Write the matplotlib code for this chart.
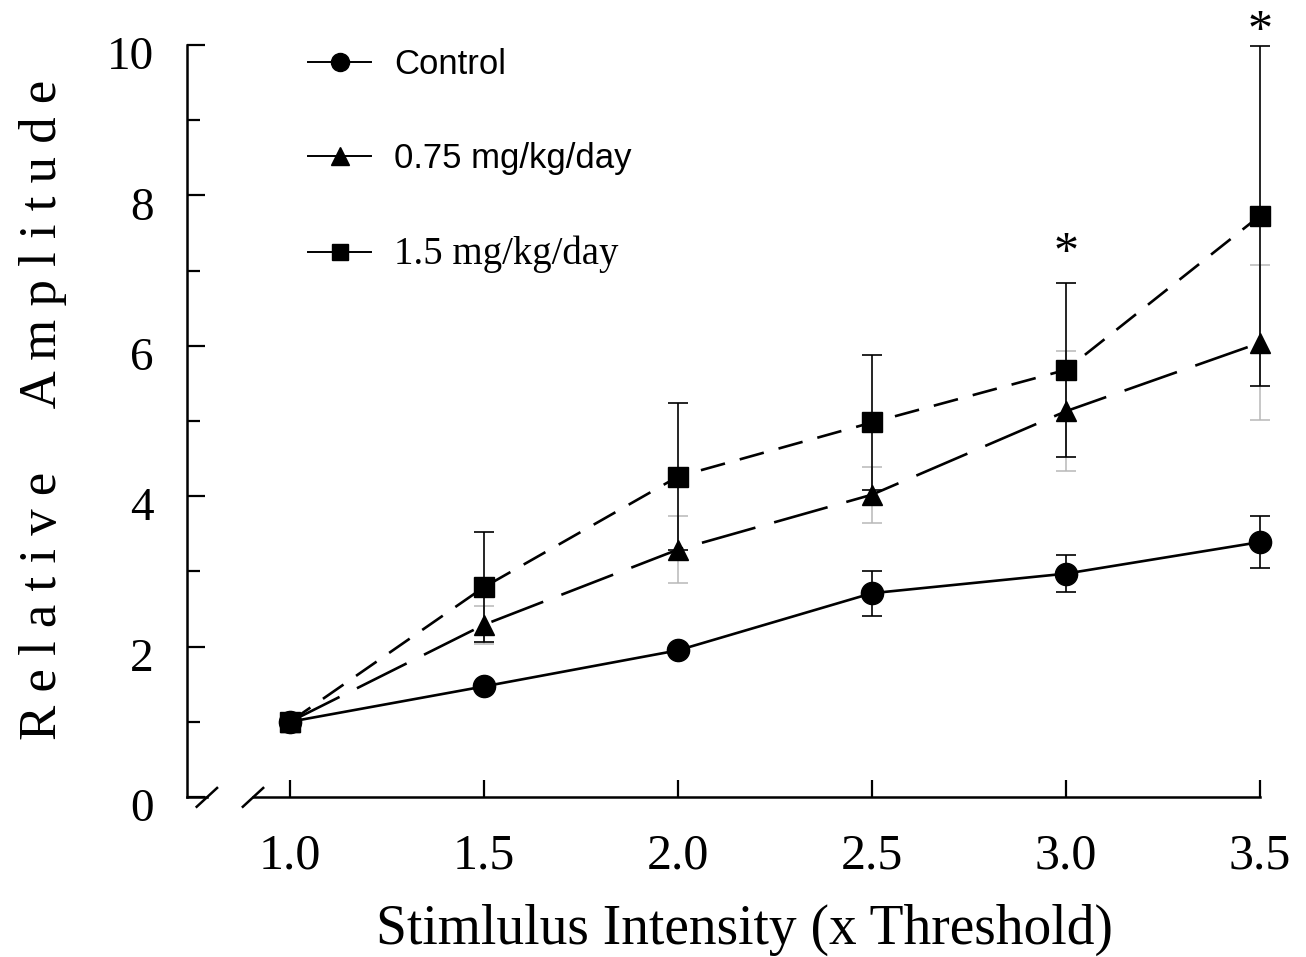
import numpy as np
import matplotlib
matplotlib.use("Agg")
import matplotlib.pyplot as plt
import matplotlib.transforms as mtransforms
from matplotlib.lines import Line2D

plt.rcParams['lines.scale_dashes'] = False

# data
intensity = [1.0, 1.5, 2.0, 2.5, 3.0, 3.5]

control = [1.0, 1.47, 1.95, 2.71, 2.97, 3.39]
control_err = [0.0, 0.0, 0.0, 0.30, 0.25, 0.35]

low_dose = [1.0, 2.29, 3.29, 4.02, 5.13, 6.04]
low_dose_err = [0.0, 0.25, 0.45, 0.37, 0.80, 1.03]

high_dose = [1.0, 2.79, 4.26, 4.98, 5.68, 7.73]
high_dose_err = [0.0, 0.73, 0.98, 0.90, 1.16, 2.26]

star_x = [3.0, 3.5]
star_y = [7.22, 10.17]

labels = ['Control', '0.75 mg/kg/day', '1.5 mg/kg/day']

serif = 'Liberation Serif'
sans = 'Liberation Sans'

fig = plt.figure(figsize=(13.06, 9.57), dpi=100)
ax = fig.add_axes([0.1432, 0.1672, 0.8216, 0.7858])

# error bars first (grey for 0.75, black for the others)
ax.errorbar(intensity, low_dose, yerr=low_dose_err, fmt='none', ecolor='#b8b8b8',
            elinewidth=1.1, capsize=7, capthick=1.1, zorder=2, clip_on=False)
ax.errorbar(intensity, high_dose, yerr=high_dose_err, fmt='none', ecolor='black',
            elinewidth=1.2, capsize=7, capthick=1.2, zorder=2, clip_on=False)
ax.errorbar(intensity, control, yerr=control_err, fmt='none', ecolor='black',
            elinewidth=1.2, capsize=7, capthick=1.2, zorder=2, clip_on=False)

lw = 1.9
ax.plot(intensity, control, color='black', lw=lw, marker='o', ms=16, zorder=3, clip_on=False)
ax.plot(intensity, low_dose, color='black', lw=lw, marker='^', ms=15,
        dashes=[40, 14], zorder=4, clip_on=False)
ax.plot(intensity, high_dose, color='black', lw=lw, marker='s', ms=15,
        dashes=[18, 11], zorder=5, clip_on=False)

for sx, sy in zip(star_x, star_y):
    ax.text(sx, sy, '*', fontsize=36, family=serif, ha='center', va='center')

ax.set_xlim(0.735, 3.5)
ax.set_ylim(0, 10)
ax.set_xticks(intensity)
ax.set_xticklabels(['%.1f' % v for v in intensity])
ax.set_yticks(np.arange(0, 11, 2))
ax.set_yticks(np.arange(1, 10, 2), minor=True)

ax.tick_params(axis='y', which='major', direction='in', length=13, width=1.6, pad=24)
ax.tick_params(axis='y', which='minor', direction='in', length=9, width=1.6)
ax.tick_params(axis='x', which='major', direction='in', length=12, width=1.6, pad=26)

for lab in ax.get_xticklabels():
    lab.set_family(serif)
    lab.set_fontsize(36)
# y tick numbers sit a little below their ticks in the original
shift = mtransforms.ScaledTranslation(0, -0.08, fig.dpi_scale_trans)
for lab in ax.get_yticklabels():
    lab.set_family(serif)
    lab.set_fontsize(34)
    lab.set_transform(lab.get_transform() + shift)

for s in ['top', 'right']:
    ax.spines[s].set_visible(False)
for s in ['left', 'bottom']:
    ax.spines[s].set_linewidth(1.8)

# broken x axis
ax.spines['bottom'].set_bounds(0.905, 3.5)
kw = dict(transform=ax.transAxes, color='black', lw=1.8, clip_on=False)
ax.plot([0.0, 0.019], [0.0, 0.0], **kw)
ax.plot([0.009, 0.028], [-0.013, 0.012], **kw)
ax.plot([0.052, 0.071], [-0.013, 0.012], **kw)

ax.set_xlabel('Stimlulus Intensity (x Threshold)', fontsize=40, family=serif)
ax.xaxis.label.set_va('center')
ax.xaxis.set_label_coords(0.52, -0.177)
ax.set_ylabel('R e l a t i v e     A m p l i t u d e', fontsize=38, family=serif)
ax.yaxis.label.set_va('center')
ax.yaxis.set_label_coords(-0.134, 0.515)

handles = [
    Line2D([], [], color='black', lw=1.4, marker='o', ms=13),
    Line2D([], [], color='black', lw=1.4, marker='^', ms=13),
    Line2D([], [], color='black', lw=1.4, marker='s', ms=12),
]
leg = ax.legend(handles, labels, loc='upper left', bbox_to_anchor=(0.084, 1.037),
                frameon=False, prop={'family': sans, 'size': 25},
                handlelength=1.8, handletextpad=0.66, labelspacing=1.75)
leg.get_texts()[2].set_family(serif)
leg.get_texts()[2].set_fontsize(28)

fig.savefig('out.png', dpi=100)
